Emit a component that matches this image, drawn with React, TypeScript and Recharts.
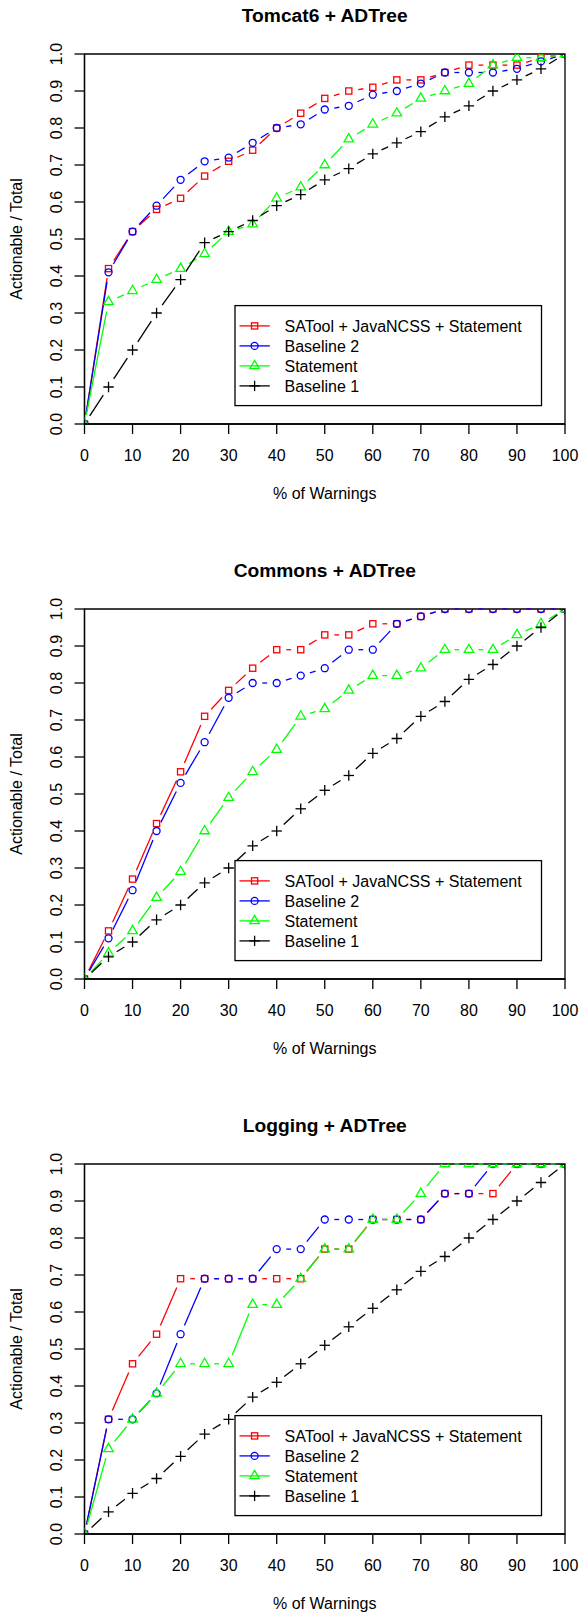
import React from 'react';
import { LineChart, Line, XAxis, YAxis, ReferenceLine, ReferenceArea } from 'recharts';

// ---------- data ----------
const pctWarnings = [0, 5, 10, 15, 20, 25, 30, 35, 40, 45, 50, 55, 60, 65, 70, 75, 80, 85, 90, 95, 100];
const xTickValues = [0, 10, 20, 30, 40, 50, 60, 70, 80, 90, 100];
const yTickValues = [0, 0.1, 0.2, 0.3, 0.4, 0.5, 0.6, 0.7, 0.8, 0.9, 1];

const seriesLabels = ['SATool + JavaNCSS + Statement', 'Baseline 2', 'Statement', 'Baseline 1'];
const panelTitles = ['Tomcat6 + ADTree', 'Commons + ADTree', 'Logging + ADTree'];
const xAxisTitle = '% of Warnings';
const yAxisTitle = 'Actionable / Total';

const tomcatSATool = [0, 0.42, 0.52, 0.58, 0.61, 0.67, 0.71, 0.74, 0.8, 0.84, 0.88, 0.9, 0.91, 0.93, 0.93, 0.95, 0.97, 0.97, 0.97, 0.99, 1.0];
const tomcatBaseline2 = [0, 0.41, 0.52, 0.59, 0.66, 0.71, 0.72, 0.76, 0.8, 0.81, 0.85, 0.86, 0.89, 0.9, 0.92, 0.95, 0.95, 0.95, 0.96, 0.98, 1.0];
const tomcatStatement = [0, 0.33, 0.36, 0.39, 0.42, 0.46, 0.52, 0.54, 0.61, 0.64, 0.7, 0.77, 0.81, 0.84, 0.88, 0.9, 0.92, 0.97, 0.99, 0.99, 1.0];
const tomcatBaseline1 = [0, 0.1, 0.2, 0.3, 0.39, 0.49, 0.52, 0.55, 0.59, 0.62, 0.66, 0.69, 0.73, 0.76, 0.79, 0.83, 0.86, 0.9, 0.93, 0.96, 1.0];

const commonsSATool = [0, 0.13, 0.27, 0.42, 0.56, 0.71, 0.78, 0.84, 0.89, 0.89, 0.93, 0.93, 0.96, 0.96, 0.98, 1.0, 1.0, 1.0, 1.0, 1.0, 1.0];
const commonsBaseline2 = [0, 0.11, 0.24, 0.4, 0.53, 0.64, 0.76, 0.8, 0.8, 0.82, 0.84, 0.89, 0.89, 0.96, 0.98, 1.0, 1.0, 1.0, 1.0, 1.0, 1.0];
const commonsStatement = [0, 0.07, 0.13, 0.22, 0.29, 0.4, 0.49, 0.56, 0.62, 0.71, 0.73, 0.78, 0.82, 0.82, 0.84, 0.89, 0.89, 0.89, 0.93, 0.96, 1.0];
const commonsBaseline1 = [0, 0.06, 0.1, 0.16, 0.2, 0.26, 0.3, 0.36, 0.4, 0.46, 0.51, 0.55, 0.61, 0.65, 0.71, 0.75, 0.81, 0.85, 0.9, 0.95, 1.0];

const loggingSATool = [0, 0.31, 0.46, 0.54, 0.69, 0.69, 0.69, 0.69, 0.69, 0.69, 0.77, 0.77, 0.85, 0.85, 0.85, 0.92, 0.92, 0.92, 1.0, 1.0, 1.0];
const loggingBaseline2 = [0, 0.31, 0.31, 0.38, 0.54, 0.69, 0.69, 0.69, 0.77, 0.77, 0.85, 0.85, 0.85, 0.85, 0.85, 0.92, 0.92, 1.0, 1.0, 1.0, 1.0];
const loggingStatement = [0, 0.23, 0.31, 0.38, 0.46, 0.46, 0.46, 0.62, 0.62, 0.69, 0.77, 0.77, 0.85, 0.85, 0.92, 1.0, 1.0, 1.0, 1.0, 1.0, 1.0];
const loggingBaseline1 = [0, 0.06, 0.11, 0.15, 0.21, 0.27, 0.31, 0.37, 0.41, 0.46, 0.51, 0.56, 0.61, 0.66, 0.71, 0.75, 0.8, 0.85, 0.9, 0.95, 1.0];

const panelSeries = [
  [tomcatSATool, tomcatBaseline2, tomcatStatement, tomcatBaseline1],
  [commonsSATool, commonsBaseline2, commonsStatement, commonsBaseline1],
  [loggingSATool, loggingBaseline2, loggingStatement, loggingBaseline1],
];

// ---------- style / layout ----------
const seriesColors = ['#ff0000', '#0000ff', '#00ff00', '#000000'];
const seriesMarkers = ['square', 'circle', 'triangle', 'plus'];
const FONT = '"Liberation Sans", Arial, Helvetica, sans-serif';
const PANEL_W = 579;
const PANEL_H = 505;
const PANEL_GAP = 50;
const PLOT_L = 84.5;
const PLOT_T = 54;
const PLOT_W = 480.5;
const PLOT_H = 370;
const PLOT_B = PLOT_T + PLOT_H;
const PLOT_CX = PLOT_L + PLOT_W / 2;
const SW = 1.3;
const LINE_GAP = 9.6;

function Marker({ kind, color, cx, cy }: { kind: string; color: string; cx: number; cy: number }) {
  if (kind === 'square')
    return <rect x={cx - 3.1} y={cy - 3.1} width={6.2} height={6.2} fill="none" stroke={color} strokeWidth={SW} />;
  if (kind === 'circle') return <circle cx={cx} cy={cy} r={3.5} fill="none" stroke={color} strokeWidth={SW} />;
  if (kind === 'triangle')
    return (
      <polygon
        points={`${cx},${cy - 5.5} ${cx - 4.75},${cy + 2.75} ${cx + 4.75},${cy + 2.75}`}
        fill="none"
        stroke={color}
        strokeWidth={SW}
        strokeLinejoin="miter"
      />
    );
  return (
    <g stroke={color} strokeWidth={SW}>
      <line x1={cx - 5.2} x2={cx + 5.2} y1={cy} y2={cy} />
      <line x1={cx} x2={cx} y1={cy - 5.2} y2={cy + 5.2} />
    </g>
  );
}

const gapShape = (color: string) => (p: any) => {
  const { x1, y1, x2, y2 } = p;
  const dx = x2 - x1;
  const dy = y2 - y1;
  const len = Math.hypot(dx, dy);
  if (!(len > 2 * LINE_GAP)) return <g />;
  const f = LINE_GAP / len;
  return (
    <line
      x1={x1 + f * dx}
      y1={y1 + f * dy}
      x2={x2 - f * dx}
      y2={y2 - f * dy}
      stroke={color}
      strokeWidth={SW}
      clipPath={p.clipPath}
    />
  );
};

const makeDot = (kind: string, color: string, clipId: string) => (p: any) => {
  const { cx, cy, index } = p;
  if (cx == null || cy == null) return <g key={`e${index}`} />;
  return (
    <g key={`d${index}`} clipPath={`url(#${clipId})`}>
      <Marker kind={kind} color={color} cx={cx} cy={cy} />
    </g>
  );
};

const YTick = (p: any) => (
  <text
    transform={`translate(${PLOT_L - 23}, ${p.y}) rotate(-90)`}
    textAnchor="middle"
    fontSize={16}
    fontFamily={FONT}
    fill="#000"
  >
    {Number(p.payload.value).toFixed(1)}
  </text>
);

const XTick = (p: any) => (
  <text x={p.x} y={PLOT_B + 36.5} textAnchor="middle" fontSize={16} fontFamily={FONT} fill="#000">
    {p.payload.value}
  </text>
);

function Panel({ idx }: { idx: number }) {
  const series = panelSeries[idx];
  const rows = pctWarnings.map((x, i) => ({ x, s0: series[0][i], s1: series[1][i], s2: series[2][i], s3: series[3][i] }));
  const clipId = `plotclip-${idx}`;
  const legL = 235;
  const legT = 305.6;
  return (
    <div style={{ position: 'relative', width: PANEL_W, height: PANEL_H, marginBottom: idx < 2 ? PANEL_GAP : 0 }}>
      <LineChart
        width={PANEL_W}
        height={PANEL_H}
        data={rows}
        margin={{ top: PLOT_T, right: PANEL_W - PLOT_L - PLOT_W, bottom: PANEL_H - PLOT_B - 30, left: PLOT_L - 60 }}
      >
        <XAxis
          dataKey="x"
          type="number"
          domain={[0, 100]}
          ticks={xTickValues}
          interval={0}
          height={30}
          tickSize={10}
          tick={XTick}
          axisLine={{ stroke: '#000', strokeWidth: SW }}
          tickLine={{ stroke: '#000', strokeWidth: SW }}
        />
        <YAxis
          type="number"
          domain={[0, 1]}
          ticks={yTickValues}
          interval={0}
          width={60}
          tickSize={10}
          tick={YTick}
          axisLine={{ stroke: '#000', strokeWidth: SW }}
          tickLine={{ stroke: '#000', strokeWidth: SW }}
        />
        <ReferenceArea x1={0} x2={100} y1={0} y2={1} fill="none" fillOpacity={0} stroke="#000" strokeWidth={SW} ifOverflow="visible" />
        {series.map((vals, k) =>
          vals.slice(0, -1).map((v, i) => (
            <ReferenceLine
              key={`seg-${k}-${i}`}
              segment={[
                { x: pctWarnings[i], y: v },
                { x: pctWarnings[i + 1], y: vals[i + 1] },
              ]}
              ifOverflow="visible"
              stroke={seriesColors[k]}
              shape={gapShape(seriesColors[k])}
            />
          ))
        )}
        {series.map((_, k) => (
          <Line
            key={`line-${k}`}
            dataKey={`s${k}`}
            stroke="none"
            isAnimationActive={false}
            activeDot={false}
            dot={makeDot(seriesMarkers[k], seriesColors[k], clipId)}
          />
        ))}
      </LineChart>
      <svg
        width={PANEL_W}
        height={PANEL_H}
        style={{ position: 'absolute', left: 0, top: 0, pointerEvents: 'none' }}
        fontFamily={FONT}
      >
        <defs>
          <clipPath id={clipId}>
            <rect x={PLOT_L} y={PLOT_T} width={PLOT_W} height={PLOT_H} />
          </clipPath>
        </defs>
        <text x={PLOT_CX} y={22} textAnchor="middle" fontSize={19.2} fontWeight="bold" fill="#000">
          {panelTitles[idx]}
        </text>
        <text x={PLOT_CX} y={498.5} textAnchor="middle" fontSize={16} fill="#000">
          {xAxisTitle}
        </text>
        <text
          transform={`translate(21.8, ${PLOT_T + PLOT_H / 2}) rotate(-90)`}
          textAnchor="middle"
          fontSize={16}
          fill="#000"
        >
          {yAxisTitle}
        </text>
        <rect x={legL} y={legT} width={306.5} height={100} fill="#fff" stroke="#000" strokeWidth={SW} />
        {seriesLabels.map((label, i) => {
          const cy = legT + 20.3 + 20 * i;
          return (
            <g key={label}>
              <line x1={legL + 4.5} x2={legL + 34.8} y1={cy} y2={cy} stroke={seriesColors[i]} strokeWidth={SW} />
              <Marker kind={seriesMarkers[i]} color={seriesColors[i]} cx={legL + 19.6} cy={cy} />
              <text x={legL + 49.5} y={cy + 5.7} fontSize={16} fill="#000">
                {label}
              </text>
            </g>
          );
        })}
      </svg>
    </div>
  );
}

export default function App() {
  return (
    <div style={{ width: PANEL_W, height: 3 * PANEL_H + 2 * PANEL_GAP, background: '#fff' }}>
      <style>{'body{margin:0;background:#fff;}'}</style>
      {[0, 1, 2].map((i) => (
        <Panel key={i} idx={i} />
      ))}
    </div>
  );
}
